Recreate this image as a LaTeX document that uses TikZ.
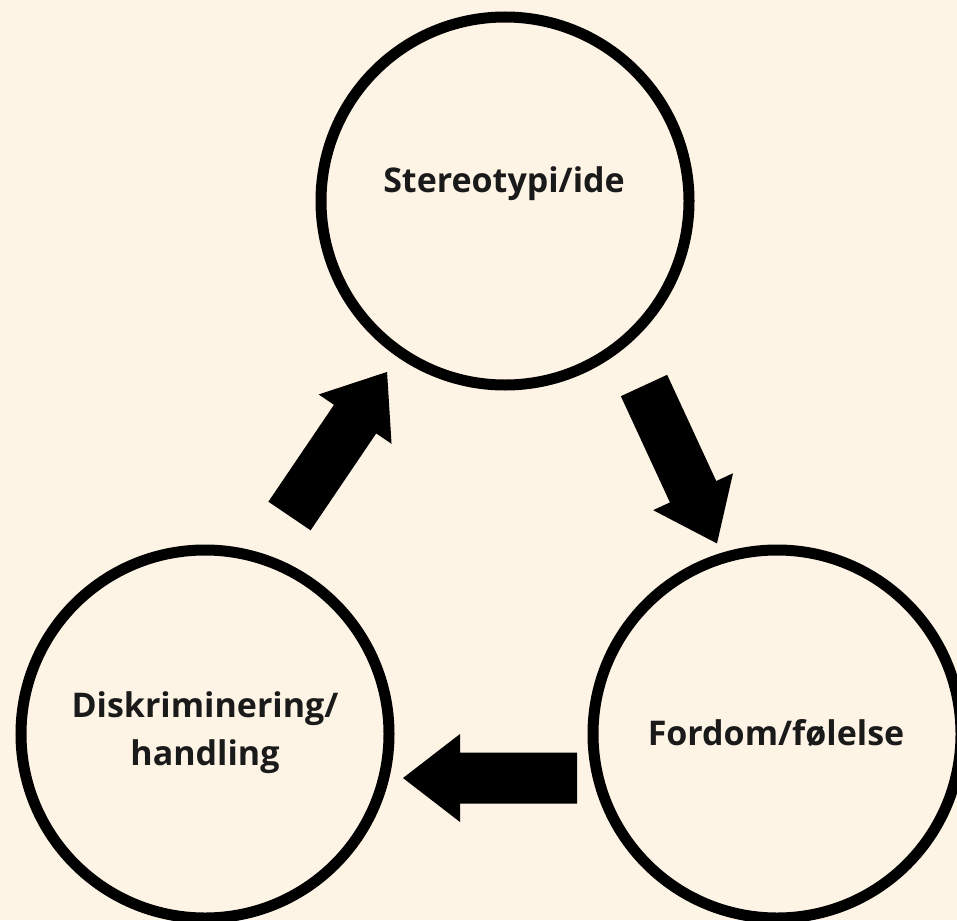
\documentclass[tikz,border=0pt]{standalone}
\usepackage{fontspec}
\setmainfont{Open Sans}
\definecolor{bgcream}{HTML}{FEF4E6}
\definecolor{inktext}{HTML}{1A1A1A}
\begin{document}
\begin{tikzpicture}[x=1pt,y=-1pt,
  ring/.style={circle,draw=black,line width=11pt,minimum size=368pt,inner sep=0pt,fill=bgcream},
  lbl/.style={font=\fontsize{34}{48}\selectfont\bfseries,text=inktext,align=center,inner sep=0pt},
  blockarrow/.pic={\fill[black] (0,-25.5) -- (117,-25.5) -- (117,-44) -- (174,0) -- (117,44) -- (117,25.5) -- (0,25.5) -- cycle;}
]
\fill[bgcream] (0,0) rectangle (957,920);
\useasboundingbox (0,0) rectangle (957,920);
\begin{scope}
\clip (0,0) rectangle (957,920);
\node[ring] (ide) at (505,201) {};
\node[ring] (handling) at (205,734) {};
\node[ring] (folelse) at (777,734) {};
\end{scope}
\node[lbl,anchor=base] (t1) at (504,193) {Stereotypi/ide};
\node[lbl] (t2) at (205,733) {Diskriminering/\\handling};
\node[lbl,anchor=base] (t3) at (776,745) {Fordom/følelse};
\pic[rotate=-65.2] (a1) at (644,385.5) {blockarrow};
\pic[rotate=180] (a2) at (577,778) {blockarrow};
\pic[rotate=55.9] (a3) at (289.5,516) {blockarrow};
\end{tikzpicture}
\end{document}
